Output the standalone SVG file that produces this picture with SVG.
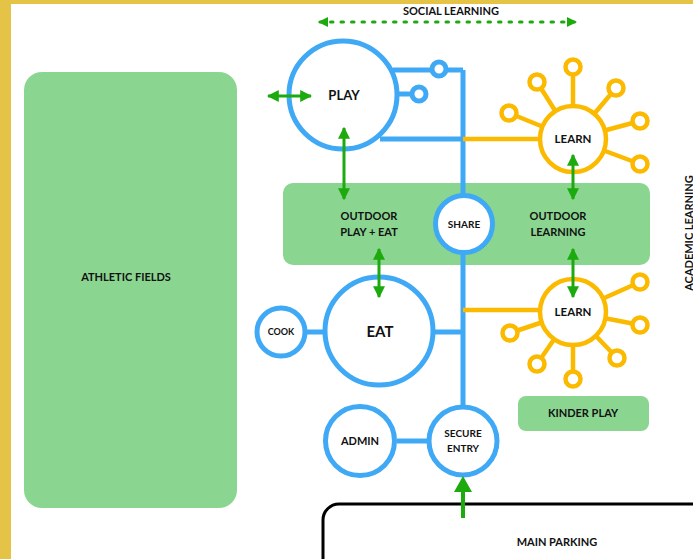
<svg xmlns="http://www.w3.org/2000/svg" width="693" height="559" viewBox="0 0 693 559">
<defs>
<style>
.bl{fill:#fff;stroke:#3FA9F5;stroke-width:5}
.bline{stroke:#3FA9F5;stroke-width:5;fill:none}
.yl{fill:#fff;stroke:#FBBA00;stroke-width:4.5}
.yline{stroke:#FBBA00;stroke-width:4.5;fill:none}
.zone{fill:#8AD691}
.ga{stroke:#1DAA0E;stroke-width:3;fill:none}
text{font-family:Lato,"Open Sans",sans-serif;font-weight:700;fill:#111;text-anchor:middle}
</style>
<marker id="ah" viewBox="0 0 10 10" refX="9" refY="5" markerWidth="4" markerHeight="4" orient="auto-start-reverse" markerUnits="strokeWidth">
<path d="M0,0 L10,5 L0,10 z" fill="#1DAA0E"/>
</marker>
</defs>
<rect width="693" height="559" fill="#fff"/>
<rect x="0" y="0" width="693" height="4" fill="#E5C347"/>
<rect x="0" y="0" width="11" height="559" fill="#E5C347"/>

<g id="athletic-fields">
<rect class="zone" x="24" y="72" width="213" height="436" rx="18"/>
<text x="126" y="281" font-size="11">ATHLETIC FIELDS</text>
</g>
<g id="outdoor-band">
<rect class="zone" x="283" y="183" width="367" height="82" rx="10"/>
</g>
<g id="kinder-play">
<rect class="zone" x="518" y="396" width="131" height="35" rx="8"/>
<text x="583" y="417" font-size="11">KINDER PLAY</text>
</g>
<g id="main-parking">
<rect x="323" y="504" width="390" height="70" rx="16" fill="#fff" stroke="#000" stroke-width="3"/>
<text x="557" y="546" font-size="11">MAIN PARKING</text>
</g>

<g id="connectors">
<path class="bline" d="M463,70 V405 M393,70 H463 M380,139 H463 M397,94 H412 M305,332 H325 M433,332 H463 M397,441 H427"/>
<path class="yline" d="M463,139 H540 M463,310 H540"/>
<g class="yline">
<path d="M573,139 l-64,-26 M573,139 l-36,-57 M573,139 l0,-72 M573,139 l43,-51 M573,139 l67,-18 M573,139 l67,25"/>
<path d="M573,312 l-63,21 M573,312 l-36,52 M573,312 l0,67 M573,312 l44,46 M573,312 l67,13 M573,312 l67,-30"/>
</g>
</g>

<g id="play">
<circle class="bl" cx="343" cy="95" r="54"/>
<text x="344" y="100" font-size="13" font-weight="500">PLAY</text>
</g>
<g id="play-node-1"><circle class="bl" cx="439" cy="69" r="7"/></g>
<g id="play-node-2"><circle class="bl" cx="419" cy="94" r="7"/></g>

<g id="learn-top">
<circle class="yl" cx="573" cy="139" r="33"/>
<g class="yl">
<circle cx="509" cy="113" r="7.5"/><circle cx="537" cy="82" r="7.5"/><circle cx="573" cy="67" r="7.5"/>
<circle cx="616" cy="88" r="7.5"/><circle cx="640" cy="121" r="7.5"/><circle cx="640" cy="164" r="7.5"/>
</g>
<text x="573" y="143" font-size="11.5">LEARN</text>
</g>
<g id="learn-bottom">
<circle class="yl" cx="573" cy="312" r="33"/>
<g class="yl">
<circle cx="510" cy="333" r="7.5"/><circle cx="537" cy="364" r="7.5"/><circle cx="573" cy="379" r="7.5"/>
<circle cx="617" cy="358" r="7.5"/><circle cx="640" cy="325" r="7.5"/><circle cx="640" cy="282" r="7.5"/>
</g>
<text x="573" y="316" font-size="11.5">LEARN</text>
</g>

<g id="outdoor-play-eat">
<text x="369" y="220" font-size="11">OUTDOOR</text>
<text x="369" y="236" font-size="11">PLAY + EAT</text>
</g>
<g id="outdoor-learning">
<text x="558" y="220" font-size="11">OUTDOOR</text>
<text x="558" y="236" font-size="11">LEARNING</text>
</g>
<g id="share">
<circle class="bl" cx="464" cy="224" r="28.5"/>
<text x="464" y="228" font-size="10">SHARE</text>
</g>
<g id="eat">
<circle class="bl" cx="379" cy="331" r="54"/>
<text x="380" y="337" font-size="15">EAT</text>
</g>
<g id="cook">
<circle class="bl" cx="281" cy="332" r="24"/>
<text x="281" y="335" font-size="9">COOK</text>
</g>
<g id="admin">
<circle class="bl" cx="360" cy="441" r="34.5"/>
<text x="360" y="445" font-size="11">ADMIN</text>
</g>
<g id="secure-entry">
<circle class="bl" cx="463" cy="441" r="34"/>
<text x="463" y="437" font-size="10">SECURE</text>
<text x="463" y="452" font-size="10">ENTRY</text>
</g>

<g id="arrows">
<path class="ga" d="M344,128 V199" marker-start="url(#ah)" marker-end="url(#ah)"/>
<path class="ga" d="M379,249 V297" marker-start="url(#ah)" marker-end="url(#ah)"/>
<path class="ga" d="M573,155 V199" marker-start="url(#ah)" marker-end="url(#ah)"/>
<path class="ga" d="M573,249 V297" marker-start="url(#ah)" marker-end="url(#ah)"/>
<path class="ga" d="M268,96 H311" marker-start="url(#ah)" marker-end="url(#ah)"/>
<path class="ga" d="M320,22 H575" stroke-dasharray="2.5 8" stroke-width="2.5" stroke-linecap="round"/>
<path d="M318,22 L328,17 L328,27 z M577,22 L567,17 L567,27 z" fill="#1DAA0E"/>
<path d="M463,518 V488" stroke="#1DAA0E" stroke-width="4"/>
<path d="M463,476 L472,492 L454,492 z" fill="#1DAA0E"/>
</g>

<g id="labels">
<text x="451" y="15" font-size="11">SOCIAL LEARNING</text>
<text transform="translate(693,233) rotate(-90)" font-size="11">ACADEMIC LEARNING</text>
</g>
</svg>
